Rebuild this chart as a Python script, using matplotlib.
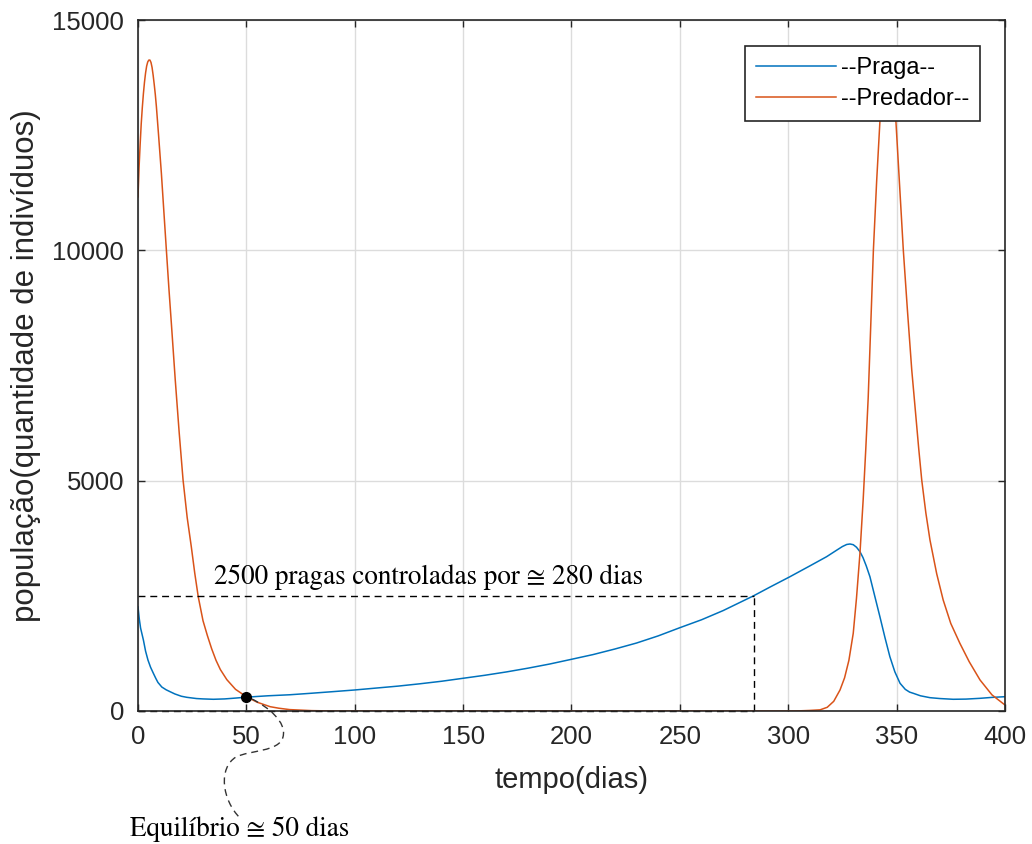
import matplotlib
matplotlib.use("Agg")
import matplotlib.pyplot as plt
import matplotlib.transforms as mtransforms
from matplotlib.path import Path
from matplotlib.patches import PathPatch

# pest (prey) population
t_praga = [0, 0.6, 1.2, 2.5, 3.5, 4.6, 5.8, 7.1, 8.2, 9.2, 11, 13, 14.8, 17, 20, 22.5,
           27, 30, 34.8, 40, 45, 50, 60, 70, 80, 90, 100, 110, 120, 130, 140, 150,
           160, 170, 180, 190, 200, 210, 220, 230, 240, 250, 260, 270, 284, 292,
           300.8, 310, 317.7, 322, 325, 327, 328.5, 330, 331.5, 333.1, 334.5, 336,
           337.7, 340, 342.3, 344.6, 346.9, 349.2, 351.6, 354, 356, 357.7, 361,
           365.4, 370, 376.1, 382, 388.5, 394, 400]
praga = [2260, 2000, 1800, 1541, 1300, 1107, 950, 818, 710, 620, 520, 460, 419, 370, 320, 297,
         270, 262, 254, 262, 280, 300, 330, 352, 385, 420, 456, 498, 540, 590, 645, 710,
         775, 848, 930, 1020, 1122, 1225, 1345, 1475, 1630, 1808, 1980, 2180, 2500, 2700,
         2915, 3150, 3349, 3480, 3570, 3615, 3625, 3610, 3555, 3458, 3330, 3150,
         2915, 2480, 2047, 1600, 1179, 850, 601, 470, 410, 384, 330,
         289, 270, 254, 258, 275, 295, 310]

# predator population
t_pred = [0, 0.5, 1, 1.5, 2, 2.5, 3, 3.5, 4, 4.5, 5, 5.5, 6, 6.5, 7, 7.5, 8, 8.5,
          9.5, 10.8, 12, 13.1, 14.3, 15.4, 16.3, 17.2, 19, 20.8, 22.7, 24.6, 26.2,
          27.8, 30, 32, 34, 36, 38, 41, 45, 50, 55, 61, 65, 70, 80, 90, 150, 250,
          300, 305, 310, 314.7, 318, 321, 323.9, 326, 328, 330, 331.5, 333.1, 334.6,
          335.8, 336.9, 338.1, 339.3, 340.8, 342.3, 343.5, 344.7, 346, 347.3, 348.5,
          349.7, 351.4, 353.1, 355, 357, 358.7, 360.2, 361.6, 363.5, 365.4, 368.5,
          371.5, 375, 379.2, 383.5, 388.5, 394, 400]
predador = [11160, 11800, 12300, 12750, 13100, 13400, 13650, 13850, 14000, 14090, 14130, 14130, 14080, 13970, 13800, 13600, 13380, 13117,
            12500, 11670, 10800, 10006, 9150, 8415, 7800, 7185, 6050, 5014, 4200, 3567, 2990,
            2481, 1960, 1640, 1350, 1100, 900, 680, 470, 310, 190, 93, 60, 30, 8, 0, 0, 0,
            0, 3, 12, 25, 80, 210, 456, 720, 1100, 1686, 2450, 3423, 4600,
            5700, 6800, 8400, 10006, 11500, 12791, 13500, 13950, 14130, 13950, 13500,
            12791, 11400, 10006, 8700, 7400, 6500, 5700, 5014, 4300, 3712, 2980,
            2409, 1900, 1469, 1070, 673, 350, 130]

x_ticks = [0, 50, 100, 150, 200, 250, 300, 350, 400]
y_ticks = [0, 5000, 10000, 15000]

t_controle = 284
n_controle = 2500
t_equil = 50
n_equil = 310

azul = "#0072BD"
laranja = "#D95319"
cinza = "#262626"

plt.rcParams['font.family'] = ['Liberation Sans', 'DejaVu Sans']

fig = plt.figure(figsize=(10.32, 8.44), dpi=100)
ax = fig.add_axes([0.1337, 0.1576, 0.8401, 0.8187])

ax.plot(t_praga, praga, color=azul, lw=1.1, label="--Praga--")
ax.plot(t_pred, predador, color=laranja, lw=1.1, label="--Predador--")

# control lines
tracejado = (0, (5, 3.5))
ax.plot([0, t_controle], [n_controle, n_controle], color="black", lw=1, linestyle=tracejado)
ax.plot([t_controle, t_controle], [0, n_controle], color="black", lw=1, linestyle=tracejado)
ax.plot([0, t_controle], [0, 0], color="black", lw=1, linestyle=tracejado, clip_on=False)
ax.plot([t_equil], [n_equil], "o", color="black", ms=7, zorder=5)

serif = ['STIXGeneral', 'Liberation Serif', 'DejaVu Serif']
ax.text(35, 2760, "2500 pragas controladas por \u2245 280 dias", family=serif,
        fontsize=19.5, va="baseline", ha="left", color="black")

ax.set_xlim(0, 400)
ax.set_ylim(0, 15000)
ax.set_xticks(x_ticks)
ax.set_yticks(y_ticks)
ax.grid(True, color="#DCDCDC", lw=1)
ax.set_axisbelow(True)
ax.tick_params(direction="in", length=5, width=1, colors=cinza, labelsize=18.5,
               top=True, right=True, pad=10)
for s in ax.spines.values():
    s.set_color(cinza)
    s.set_linewidth(1.2)

ax.set_xlabel("tempo(dias)", fontsize=21, color=cinza, labelpad=12)
ax.set_ylabel("população(quantidade de indivíduos)", fontsize=22.5, color=cinza, labelpad=8)

leg = ax.legend(loc="upper right", bbox_to_anchor=(0.971, 0.962), borderaxespad=0,
                fontsize=17, fancybox=False, framealpha=1, edgecolor=cinza,
                handlelength=3.4, handletextpad=0.2, borderpad=0.45, labelspacing=0.4)
leg.get_frame().set_linewidth(1.2)

# curvy connector from equilibrium point to its caption (figure pixel coords)
px = mtransforms.Affine2D().scale(1 / 1032, -1 / 844).translate(0, 1) + fig.transFigure
verts = [(252, 699), (268, 707), (287, 722), (283, 737),
         (279, 752), (250, 750), (236, 757),
         (218, 768), (222, 800), (240, 818)]
codes = [Path.MOVETO] + [Path.CURVE4] * 9
fig.patches.append(PathPatch(Path(verts, codes), transform=px, fill=False,
                             edgecolor="#333333", lw=1, linestyle=tracejado))
fig.text(130 / 1032, 1 - 836 / 844, "Equilíbrio \u2245 50 dias", family=serif,
         fontsize=19.5, va="baseline", ha="left", color="black")

fig.savefig("out.png", dpi=100)
